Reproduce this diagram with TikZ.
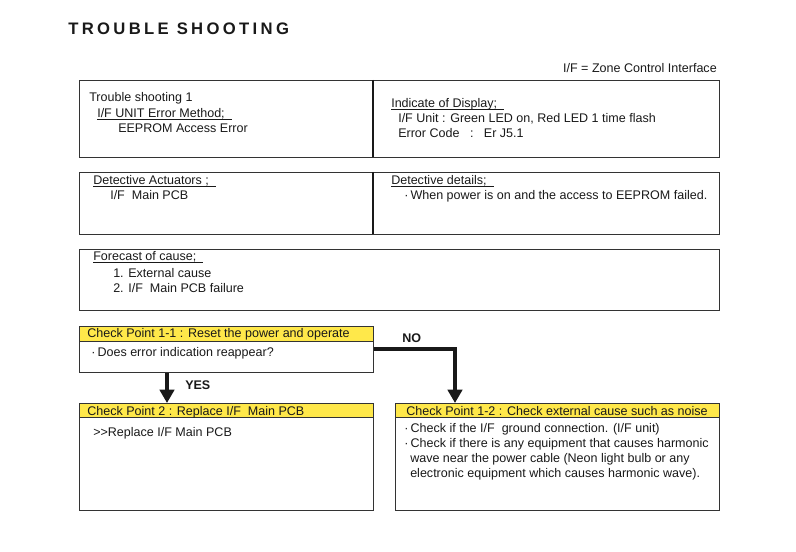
\documentclass[tikz,border=0pt]{standalone}
\usepackage{fontspec}
\setmainfont{Liberation Sans}
\usepackage{xcolor}
\usetikzlibrary{arrows.meta}
\definecolor{cpyellow}{HTML}{FFE84A}
\newdimen\px \px=0.75pt
\newcommand\ulhead[1]{\setbox0\hbox{#1\ \ }\rlap{\rule[-1.7pt]{\wd0}{0.6pt}}\box0}
\tikzset{
  box/.style={draw=black!80, line width=0.8pt, anchor=north west, inner sep=0pt},
  headbox/.style={box, fill=cpyellow},
  txt/.style={anchor=base west, inner sep=0pt, text=black!90, font=\fontsize{9.4}{11}\selectfont},
  answer/.style={txt, font=\fontsize{9.4}{11}\selectfont\bfseries},
  flow/.style={line width=2.4pt, black!90, -{Triangle[width=10.8pt,length=10pt]}},
}
\begin{document}
\begin{tikzpicture}[x=0.75pt,y=-0.75pt]
\useasboundingbox (0,0) rectangle (796,552);
\node[txt, font=\fontsize{12.5}{15}\selectfont\bfseries\addfontfeatures{LetterSpace=20}] (title) at (68,34.5) {TROUBLE SHOOTING};
\node[txt, anchor=base east] (legend) at (717,72.5) {I/F = Zone Control Interface};

\node[box, minimum width=640*\px, minimum height=77*\px] (unit) at (79,80) {};
\draw[line width=1.5pt, black!90] (373,80) -- (373,157);
\node[txt] (unitA) at (89,102) {Trouble shooting 1};
\node[txt] (unitB) at (97,118) {\ulhead{I/F UNIT Error Method;}};
\node[txt] (unitC) at (118,133) {EEPROM Access Error};
\node[txt] (dispA) at (391,108) {\ulhead{Indicate of Display;}};
\node[txt] (dispB) at (398,123) {I/F Unit : Green LED on, Red LED 1 time flash};
\node[txt] (dispC) at (398,138) {Error Code\ \ \ :\ \ \ Er J5.1};

\node[box, minimum width=640*\px, minimum height=62*\px] (detect) at (79,172) {};
\draw[line width=1.5pt, black!90] (373,172) -- (373,234);
\node[txt] (actA) at (93,185) {\ulhead{Detective Actuators ;}};
\node[txt] (actB) at (110,200) {I/F\ \ Main PCB};
\node[txt] (detA) at (391,185) {\ulhead{Detective details;}};
\node[txt] (detB) at (404,200) {·\,When power is on and the access to EEPROM failed.};

\node[box, minimum width=640*\px, minimum height=61*\px] (cause) at (79,249) {};
\node[txt] (causeA) at (93,261) {\ulhead{Forecast of cause;}};
\node[txt] (causeB) at (113,277) {1. External cause};
\node[txt] (causeC) at (113,292) {2. I/F\ \ Main PCB failure};

\node[headbox, minimum width=294*\px, minimum height=15*\px] (cp11h) at (79,326) {};
\node[box, minimum width=294*\px, minimum height=31*\px] (cp11) at (79,341) {};
\node[txt] (cp11t) at (87,338) {Check Point 1-1 : Reset the power and operate};
\node[txt] (cp11b) at (91,356) {·\,Does error indication reappear?};

\node[headbox, minimum width=294*\px, minimum height=14*\px] (cp2h) at (79,403) {};
\node[box, minimum width=294*\px, minimum height=93*\px] (cp2) at (79,417) {};
\node[txt] (cp2t) at (87,415) {Check Point 2 : Replace I/F\ \ Main PCB};
\node[txt] (cp2b) at (93,436) {>{}>Replace I/F Main PCB};

\node[headbox, minimum width=324*\px, minimum height=14*\px] (cp12h) at (395,403) {};
\node[box, minimum width=324*\px, minimum height=93*\px] (cp12) at (395,417) {};
\node[txt, anchor=base] (cp12t) at (557,415) {Check Point 1-2 : Check external cause such as noise};
\node[txt] (cp12a) at (404,432) {·\,Check if the I/F\ \ ground connection. (I/F unit)};
\node[txt] (cp12b) at (404,447) {·\,Check if there is any equipment that causes harmonic};
\node[txt] (cp12c) at (410,462) {wave near the power cable (Neon light bulb or any};
\node[txt] (cp12d) at (410,477) {electronic equipment which causes harmonic wave).};

\draw[flow] (cp11.south -| 167,0) -- (cp2h.north -| 167,0);
\node[answer] (yes) at (185,389) {YES};
\draw[flow] (cp11.east |- 0,349) -| (cp12h.north -| 455,0);
\node[answer] (no) at (402,343) {NO};
\end{tikzpicture}
\end{document}
